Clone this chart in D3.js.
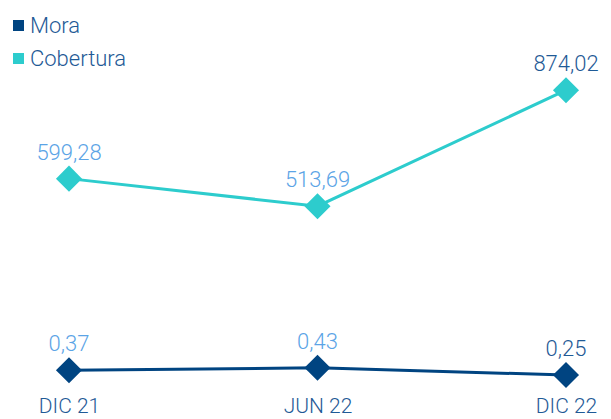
<!DOCTYPE html>
<html>
<head>
<meta charset="utf-8">
<script src="https://cdn.jsdelivr.net/npm/d3@7"></script>
<style>
  body { margin: 0; background: #fff; }
  svg { font-family: Roboto, "Open Sans", sans-serif; font-weight: 300; }
</style>
</head>
<body>
<svg id="chart"></svg>
<script>
const periods = ["DIC 21", "JUN 22", "DIC 22"];
const mora = [0.37, 0.43, 0.25];
const cobertura = [599.28, 513.69, 874.02];
const seriesNames = ["Mora", "Cobertura"];

const width = 611;
const height = 419;

const colorMora = "#004481";
const colorCob = "#2dcccd";
const labelLight = "#5ba4e6";
const labelDark = "#1f5a96";

const fmt = v => d3.format(".2f")(v).replace(".", ",");

const svg = d3.select("#chart")
    .attr("width", width)
    .attr("height", height);

const x = d3.scalePoint()
    .domain(periods)
    .range([69, 566]);

// each series on its own axis
const yCob = d3.scaleLinear()
    .domain([0, 1000])
    .range([371.6, 49.6]);

const yMora = d3.scaleLinear()
    .domain([0, 1])
    .range([385, 345]);

const diamond = d3.symbol().type(d3.symbolSquare).size(340);

function drawSeries(values, yScale, color) {
    const line = d3.line()
        .x((d, i) => x(periods[i]))
        .y(d => yScale(d));

    svg.append("path")
        .datum(values)
        .attr("fill", "none")
        .attr("stroke", color)
        .attr("stroke-width", 3)
        .attr("d", line);

    svg.append("g")
        .selectAll("path")
        .data(values)
        .join("path")
        .attr("d", diamond)
        .attr("fill", color)
        .attr("transform", (d, i) => `translate(${x(periods[i])},${yScale(d)}) rotate(45)`);

    svg.append("g")
        .selectAll("text")
        .data(values)
        .join("text")
        .attr("x", (d, i) => x(periods[i]))
        .attr("y", d => yScale(d) - 19)
        .attr("text-anchor", "middle")
        .attr("font-size", 22)
        .attr("fill", (d, i) => i === values.length - 1 ? labelDark : labelLight)
        .text(d => fmt(d));
}

drawSeries(cobertura, yCob, colorCob);
drawSeries(mora, yMora, colorMora);

// x axis labels
const xAxis = g => g
    .attr("transform", "translate(0,413)")
    .call(d3.axisBottom(x).tickSize(0).tickPadding(0))
    .call(g => g.select(".domain").remove())
    .call(g => g.selectAll("text")
        .attr("dy", 0)
        .attr("font-size", 21)
        .attr("font-weight", 300)
        .attr("font-family", "Roboto, sans-serif")
        .attr("fill", labelDark));

svg.append("g").call(xAxis);

// legend
const legend = svg.append("g")
    .selectAll("g")
    .data(seriesNames)
    .join("g")
    .attr("transform", (d, i) => `translate(13,${20 + i * 33})`);

legend.append("rect")
    .attr("width", 11)
    .attr("height", 11)
    .attr("fill", (d, i) => i === 0 ? colorMora : colorCob);

legend.append("text")
    .attr("x", 17)
    .attr("y", 13)
    .attr("font-size", 22)
    .attr("fill", labelDark)
    .text(d => d);
</script>
</body>
</html>
